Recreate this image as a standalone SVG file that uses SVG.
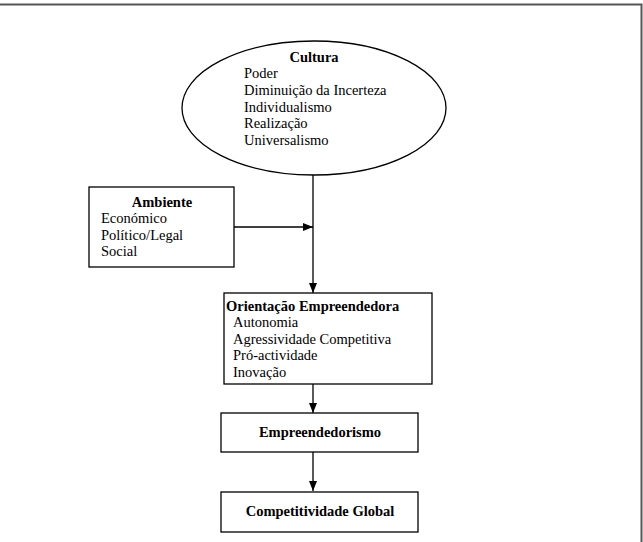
<svg xmlns="http://www.w3.org/2000/svg" width="643" height="542" viewBox="0 0 643 542">
<style>
.box{fill:#fff;stroke:#000;stroke-width:1.3}
.t{font-family:"Liberation Serif","Times New Roman",serif;font-size:14.5px;fill:#000}
.b{font-weight:bold}
.c{text-anchor:middle}
.ln{stroke:#000;stroke-width:1.3;fill:none}
</style>
<defs>
<marker id="ah" viewBox="0 0 10 8" refX="10" refY="4" markerWidth="10" markerHeight="8" markerUnits="userSpaceOnUse" orient="auto">
<path d="M0,0 L10,4 L0,8 Z" fill="#000"/>
</marker>
</defs>
<path d="M0,4.5 H641.5 V542" fill="none" stroke="#555" stroke-width="2"/>
<g id="connectors">
<line class="ln" x1="313" y1="175" x2="313" y2="293" marker-end="url(#ah)"/>
<line class="ln" x1="234" y1="227" x2="313" y2="227" marker-end="url(#ah)"/>
<line class="ln" x1="313" y1="384" x2="313" y2="413" marker-end="url(#ah)"/>
<line class="ln" x1="313" y1="452" x2="313" y2="491" marker-end="url(#ah)"/>
</g>
<g id="cultura">
<ellipse class="box" cx="314" cy="108" rx="132" ry="67"/>
<text class="t b c" x="314" y="62">Cultura</text>
<text class="t" x="244" y="78">Poder</text>
<text class="t" x="244" y="95">Diminuição da Incerteza</text>
<text class="t" x="244" y="112">Individualismo</text>
<text class="t" x="244" y="128">Realização</text>
<text class="t" x="244" y="145">Universalismo</text>
</g>
<g id="ambiente">
<rect class="box" x="89" y="187" width="145" height="80"/>
<text class="t b c" x="162" y="207">Ambiente</text>
<text class="t" x="101" y="223">Económico</text>
<text class="t" x="101" y="240">Político/Legal</text>
<text class="t" x="101" y="256">Social</text>
</g>
<g id="orientacao">
<rect class="box" x="224" y="293" width="208" height="91"/>
<text class="t b" x="226" y="311">Orientação Empreendedora</text>
<text class="t" x="233" y="327">Autonomia</text>
<text class="t" x="233" y="344">Agressividade Competitiva</text>
<text class="t" x="233" y="360">Pró-actividade</text>
<text class="t" x="233" y="377">Inovação</text>
</g>
<g id="empreendedorismo">
<rect class="box" x="221" y="413" width="197" height="39"/>
<text class="t b c" x="320" y="437">Empreendedorismo</text>
</g>
<g id="competitividade">
<rect class="box" x="221" y="492" width="197" height="40"/>
<text class="t b c" x="320" y="516">Competitividade Global</text>
</g>
</svg>
